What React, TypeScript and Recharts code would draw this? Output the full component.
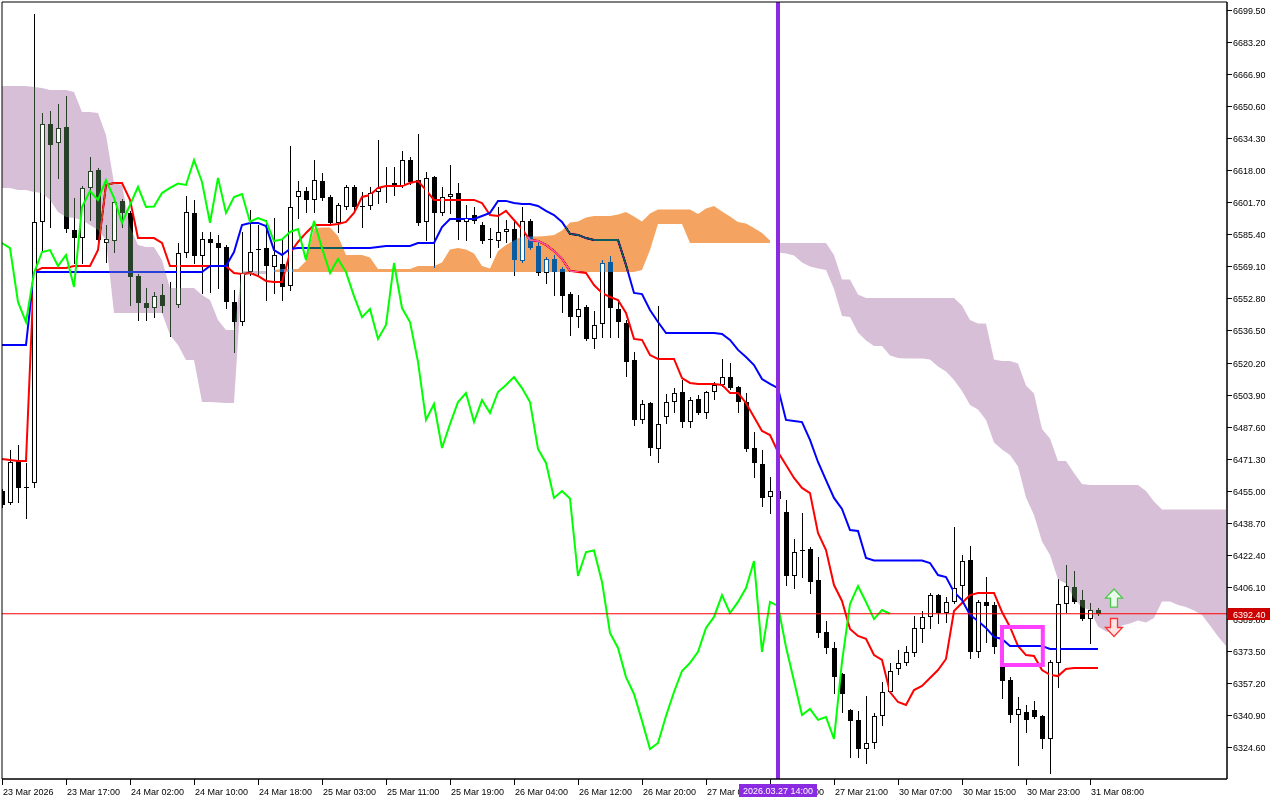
import React from "react";
import {
  ComposedChart, Bar, Line, Area, XAxis, YAxis,
  ReferenceLine, ReferenceArea, Scatter,
} from "recharts";

// H1 candles, bar 0 = first bar on screen
const OPEN = [
  6454.8, 6448.7, 6470.6, 6456.9, 6458.9, 6591.7, 6641.5, 6631.9, 6640.0, 6587.6,
  6583.5, 6609.0, 6618.1, 6581.0, 6582.0, 6602.4, 6596.3, 6564.2, 6550.5, 6547.9,
  6554.5, 6548.9, 6549.5, 6575.9, 6596.3, 6574.4, 6583.0, 6581.0, 6579.0, 6551.0,
  6540.8, 6566.2, 6577.9, 6578.4, 6568.8, 6570.3, 6559.1, 6604.4, 6607.4, 6602.9,
  6612.5, 6604.4, 6591.2, 6599.3, 6609.5, 6599.8, 6599.8, 6606.9, 6611.0, 6611.5,
  6610.0, 6623.2, 6613.0, 6591.7, 6614.6, 6596.3, 6604.4, 6606.4, 6591.7, 6595.2,
  6590.1, 6583.0, 6582.0, 6586.6, 6588.1, 6571.8, 6592.2, 6579.5, 6565.7, 6572.9,
  6567.8, 6555.0, 6543.3, 6548.4, 6532.2, 6539.8, 6571.3, 6547.4, 6540.3, 6521.5,
  6491.0, 6499.6, 6476.2, 6492.5, 6500.1, 6505.2, 6489.9, 6501.6, 6494.5, 6505.2,
  6508.8, 6512.8, 6507.7, 6500.1, 6476.7, 6468.6, 6451.8, 6454.8, 6444.2, 6411.6,
  6424.8, 6425.3, 6409.6, 6383.1, 6375.0, 6361.8, 6343.5, 6338.4, 6323.6, 6326.7,
  6340.4, 6352.6, 6364.3, 6367.4, 6372.4, 6384.7, 6390.8, 6401.9, 6392.8, 6398.4,
  6406.5, 6419.8, 6373.0, 6398.4, 6396.9, 6365.3, 6358.7, 6340.9, 6342.4, 6343.5,
  6340.4, 6328.7, 6367.4, 6397.4, 6406.0, 6399.4, 6389.7, 6394.3,
];
const HIGH = [
  6455.9, 6475.7, 6478.2, 6469.1, 6697.5, 6647.1, 6648.1, 6651.7, 6655.8, 6603.9,
  6610.0, 6624.7, 6619.1, 6590.1, 6604.4, 6603.4, 6597.3, 6565.2, 6558.1, 6556.1,
  6560.1, 6561.1, 6581.0, 6604.9, 6602.9, 6586.6, 6586.6, 6585.1, 6580.0, 6557.1,
  6586.6, 6597.8, 6590.1, 6592.7, 6593.7, 6582.5, 6630.3, 6612.5, 6609.5, 6623.2,
  6616.6, 6605.4, 6601.3, 6610.5, 6610.5, 6606.9, 6609.5, 6633.4, 6619.6, 6619.6,
  6627.8, 6624.7, 6636.4, 6617.1, 6615.1, 6609.5, 6620.7, 6611.5, 6600.3, 6599.3,
  6591.7, 6588.6, 6599.3, 6592.7, 6592.2, 6599.3, 6593.2, 6582.5, 6573.9, 6574.9,
  6568.8, 6556.1, 6554.5, 6549.5, 6546.4, 6572.3, 6574.4, 6552.0, 6541.8, 6525.5,
  6501.1, 6500.1, 6548.9, 6504.2, 6507.2, 6511.3, 6502.7, 6503.7, 6505.7, 6510.3,
  6522.0, 6520.0, 6508.3, 6504.7, 6484.9, 6475.7, 6462.0, 6460.0, 6450.3, 6430.4,
  6443.7, 6426.4, 6421.3, 6388.7, 6378.0, 6362.3, 6344.0, 6342.9, 6350.6, 6341.9,
  6357.7, 6367.4, 6374.0, 6376.0, 6391.3, 6393.8, 6403.0, 6402.5, 6400.9, 6436.5,
  6422.3, 6426.9, 6399.4, 6411.1, 6398.4, 6366.3, 6360.2, 6350.1, 6346.0, 6348.0,
  6340.9, 6368.9, 6410.1, 6417.2, 6414.2, 6404.5, 6397.9, 6395.3,
];
const LOW = [
  6446.7, 6448.0, 6449.3, 6441.1, 6456.9, 6577.4, 6589.1, 6614.1, 6586.6, 6570.8,
  6570.8, 6592.7, 6582.0, 6571.3, 6576.4, 6589.1, 6549.5, 6541.8, 6541.8, 6543.3,
  6545.9, 6533.7, 6548.4, 6573.9, 6570.8, 6555.6, 6556.1, 6558.1, 6547.9, 6525.5,
  6539.3, 6564.7, 6564.7, 6552.0, 6555.6, 6552.0, 6557.1, 6593.7, 6596.8, 6596.8,
  6602.9, 6590.1, 6586.6, 6598.3, 6597.8, 6589.1, 6598.3, 6601.3, 6601.8, 6605.4,
  6609.5, 6611.0, 6590.1, 6582.5, 6568.8, 6595.2, 6596.3, 6583.0, 6582.5, 6591.2,
  6581.0, 6573.9, 6579.0, 6581.5, 6564.7, 6571.3, 6577.9, 6564.7, 6560.6, 6554.5,
  6545.9, 6534.2, 6538.3, 6531.7, 6527.6, 6533.2, 6533.2, 6533.2, 6513.3, 6488.4,
  6489.4, 6473.2, 6469.6, 6489.4, 6495.0, 6487.4, 6487.4, 6494.0, 6492.0, 6501.6,
  6508.3, 6506.7, 6495.0, 6475.2, 6462.0, 6447.2, 6443.7, 6446.0, 6407.0, 6405.5,
  6411.1, 6403.0, 6380.6, 6372.4, 6352.1, 6342.4, 6319.5, 6319.5, 6316.5, 6324.1,
  6335.8, 6352.1, 6361.8, 6366.3, 6370.9, 6378.0, 6385.2, 6387.7, 6388.2, 6397.9,
  6397.9, 6369.9, 6370.4, 6378.0, 6372.4, 6349.6, 6337.3, 6315.5, 6332.3, 6339.4,
  6324.1, 6311.4, 6355.2, 6393.3, 6397.9, 6389.2, 6377.5, 6391.8,
];
const CLOSE = [
  6447.7, 6469.6, 6456.4, 6456.6, 6591.7, 6641.5, 6630.8, 6639.5, 6588.1, 6583.5,
  6609.0, 6617.6, 6582.5, 6583.0, 6601.8, 6596.3, 6563.7, 6550.5, 6547.9, 6554.0,
  6548.9, 6549.2, 6575.9, 6596.8, 6574.4, 6583.0, 6581.0, 6578.4, 6551.0, 6540.8,
  6565.7, 6576.4, 6577.4, 6569.3, 6574.9, 6558.6, 6599.3, 6607.4, 6602.9, 6613.0,
  6603.9, 6591.2, 6600.3, 6609.5, 6599.3, 6599.5, 6606.4, 6609.0, 6611.2, 6610.5,
  6623.2, 6612.0, 6591.2, 6614.1, 6596.3, 6604.4, 6605.9, 6591.7, 6593.7, 6592.2,
  6582.0, 6582.8, 6586.6, 6588.1, 6572.3, 6592.2, 6578.4, 6565.7, 6572.9, 6566.2,
  6554.0, 6543.3, 6547.4, 6532.2, 6539.3, 6570.8, 6547.9, 6540.8, 6520.5, 6491.0,
  6499.1, 6476.7, 6488.9, 6500.1, 6504.7, 6489.9, 6501.1, 6494.5, 6505.2, 6508.8,
  6512.8, 6507.2, 6500.1, 6476.2, 6469.1, 6451.3, 6454.8, 6451.0, 6411.6, 6423.8,
  6424.6, 6408.6, 6382.6, 6375.0, 6360.2, 6351.6, 6337.9, 6323.6, 6326.7, 6340.4,
  6352.6, 6363.3, 6367.4, 6373.0, 6385.2, 6390.8, 6401.9, 6392.8, 6398.4, 6405.5,
  6419.2, 6373.0, 6398.4, 6396.4, 6375.5, 6358.2, 6340.9, 6344.0, 6338.4, 6339.9,
  6328.7, 6367.9, 6397.4, 6406.5, 6398.4, 6389.7, 6394.3, 6392.4,
];

// Ichimoku lines
const TENKAN = [
  6471.1, 6470.6, 6470.1, 6470.1, 6566.2, 6568.3, 6568.3, 6568.3, 6568.3, 6569.3,
  6569.3, 6569.3, 6577.4, 6610.5, 6611.5, 6611.5, 6602.9, 6583.5, 6583.5, 6583.5,
  6581.0, 6569.3, 6569.3, 6569.3, 6569.3, 6569.3, 6569.3, 6569.3, 6569.3, 6565.7,
  6565.2, 6565.7, 6564.2, 6561.7, 6561.2, 6561.2, 6575.9, 6581.5, 6586.1, 6590.1,
  6590.1, 6590.1, 6590.7, 6591.7, 6596.3, 6604.4, 6605.4, 6609.0, 6610.0, 6610.0,
  6610.0, 6611.5, 6612.5, 6607.9, 6602.9, 6602.9, 6602.9, 6602.9, 6602.9, 6602.9,
  6601.3, 6595.2, 6594.7, 6597.3, 6592.7, 6588.1, 6582.5, 6582.0, 6580.0, 6576.9,
  6572.9, 6566.8, 6566.2, 6565.7, 6559.6, 6555.6, 6553.5, 6552.0, 6545.4, 6532.2,
  6531.7, 6524.0, 6522.0, 6522.0, 6522.0, 6512.3, 6509.8, 6509.3, 6509.3, 6509.3,
  6508.8, 6504.7, 6504.7, 6499.6, 6492.5, 6485.4, 6483.3, 6474.7, 6468.1, 6461.5,
  6456.4, 6453.8, 6433.5, 6424.8, 6407.0, 6398.9, 6384.7, 6381.1, 6379.6, 6371.4,
  6368.9, 6352.6, 6347.5, 6346.0, 6353.6, 6355.7, 6359.7, 6363.8, 6369.4, 6393.8,
  6397.9, 6401.9, 6403.0, 6403.0, 6403.0, 6393.3, 6385.7, 6376.0, 6371.4, 6370.9,
  6363.8, 6361.3, 6360.7, 6364.3, 6364.8, 6364.8, 6364.8, 6364.8,
];
const KIJUN = [
  6529.1, 6529.1, 6529.1, 6529.1, 6566.2, 6566.2, 6566.2, 6566.2, 6566.2, 6566.2,
  6566.2, 6566.2, 6566.2, 6566.2, 6566.2, 6566.2, 6566.2, 6566.2, 6566.2, 6566.2,
  6566.2, 6566.2, 6566.2, 6566.2, 6566.2, 6566.2, 6569.3, 6569.3, 6569.3, 6576.4,
  6590.1, 6591.2, 6591.2, 6589.6, 6577.4, 6574.9, 6577.9, 6578.4, 6578.4, 6578.4,
  6578.4, 6578.4, 6578.4, 6578.4, 6578.4, 6578.4, 6578.4, 6579.0, 6579.5, 6579.5,
  6579.5, 6579.5, 6581.0, 6581.0, 6581.0, 6589.1, 6593.2, 6593.2, 6593.2, 6593.2,
  6594.7, 6596.3, 6602.4, 6602.4, 6601.3, 6600.8, 6600.8, 6599.8, 6597.3, 6595.2,
  6591.7, 6585.6, 6585.1, 6583.5, 6582.5, 6582.5, 6582.5, 6582.5, 6569.8, 6555.6,
  6555.0, 6546.9, 6540.8, 6535.2, 6535.2, 6535.2, 6535.2, 6535.2, 6535.2, 6535.2,
  6534.7, 6531.7, 6526.6, 6523.0, 6518.9, 6511.8, 6509.3, 6507.2, 6491.0, 6490.5,
  6489.9, 6480.8, 6469.6, 6460.4, 6451.3, 6445.7, 6435.0, 6434.5, 6420.8, 6419.5,
  6419.5, 6419.5, 6419.5, 6419.5, 6419.5, 6419.5, 6418.2, 6412.1, 6411.1, 6403.5,
  6399.4, 6391.8, 6388.7, 6385.2, 6380.6, 6379.6, 6376.0, 6376.0, 6376.0, 6376.0,
  6376.0, 6374.5, 6374.5, 6374.5, 6374.5, 6374.5, 6374.5, 6374.5,
];
const CHIKOU = [
  6581.0, 6578.4, 6551.0, 6540.8, 6565.7, 6576.4, 6577.4, 6569.3, 6574.9, 6558.6,
  6599.3, 6607.4, 6602.9, 6613.0, 6603.9, 6591.2, 6600.3, 6609.5, 6599.3, 6599.5,
  6606.4, 6609.0, 6611.2, 6610.5, 6623.2, 6612.0, 6591.2, 6614.1, 6596.3, 6604.4,
  6605.9, 6591.7, 6593.7, 6592.2, 6582.0, 6582.8, 6586.6, 6588.1, 6572.3, 6592.2,
  6578.4, 6565.7, 6572.9, 6566.2, 6554.0, 6543.3, 6547.4, 6532.2, 6539.3, 6570.8,
  6547.9, 6540.8, 6520.5, 6491.0, 6499.1, 6476.7, 6488.9, 6500.1, 6504.7, 6489.9,
  6501.1, 6494.5, 6505.2, 6508.8, 6512.8, 6507.2, 6500.1, 6476.2, 6469.1, 6451.3,
  6454.8, 6451.0, 6411.6, 6423.8, 6424.6, 6408.6, 6382.6, 6375.0, 6360.2, 6351.6,
  6337.9, 6323.6, 6326.7, 6340.4, 6352.6, 6363.3, 6367.4, 6373.0, 6385.2, 6390.8,
  6401.9, 6392.8, 6398.4, 6405.5, 6419.2, 6373.0, 6398.4, 6396.4, 6375.5, 6358.2,
  6340.9, 6344.0, 6338.4, 6339.9, 6328.7, 6367.9, 6397.4, 6406.5, 6398.4, 6389.7,
  6394.3, 6392.4,
];
// Senkou spans, shifted forward (visible part only)
const SPAN_A = [
  6609.0, 6609.0, 6607.9, 6607.9, 6606.9, 6606.4, 6602.9, 6596.8, 6594.2, 6593.7,
  6592.7, 6590.1, 6587.6, 6582.5, 6545.4, 6545.4, 6545.4, 6545.4, 6545.4, 6545.4,
  6545.4, 6534.2, 6529.1, 6521.5, 6521.5, 6500.1, 6500.1, 6499.9, 6499.6, 6499.6,
  6564.2, 6565.2, 6565.2, 6565.2, 6567.2, 6567.8, 6567.8, 6567.8, 6571.8, 6588.4,
  6588.9, 6588.9, 6584.6, 6574.9, 6574.9, 6574.9, 6573.6, 6567.8, 6567.8, 6567.8,
  6567.8, 6567.8, 6569.3, 6569.3, 6569.3, 6571.1, 6577.7, 6578.4, 6577.7, 6575.7,
  6569.3, 6568.0, 6576.9, 6580.0, 6582.3, 6584.3, 6584.3, 6584.3, 6584.6, 6585.1,
  6587.4, 6591.4, 6591.9, 6594.0, 6594.7, 6594.7, 6594.7, 6595.5, 6596.8, 6594.5,
  6591.9, 6596.0, 6598.0, 6598.0, 6598.0, 6598.0, 6598.0, 6595.7, 6598.5, 6599.8,
  6597.0, 6594.5, 6591.7, 6590.9, 6588.6, 6586.1, 6582.3, 6576.2, 6575.7, 6574.6,
  6571.1, 6569.0, 6568.0, 6567.3, 6557.6, 6543.9, 6543.4, 6535.5, 6531.4, 6528.6,
  6528.6, 6523.8, 6522.5, 6522.2, 6522.2, 6522.2, 6521.7, 6518.2, 6515.6, 6511.3,
  6505.7, 6498.6, 6496.3, 6491.0, 6479.5, 6476.0, 6473.2, 6467.3, 6451.5, 6442.6,
  6429.2, 6422.3, 6409.8, 6407.8, 6400.2, 6395.6, 6394.3, 6385.9, 6383.4, 6382.6,
  6386.4, 6387.5, 6389.0, 6388.0, 6390.2, 6398.6, 6398.6, 6396.9, 6395.8, 6394.1,
  6391.8, 6386.4, 6380.8, 6376.0,
];
const SPAN_B = [
  6660.9, 6660.9, 6660.9, 6660.9, 6660.3, 6659.8, 6658.8, 6658.8, 6658.8, 6657.8,
  6647.6, 6647.6, 6647.1, 6635.9, 6611.5, 6610.5, 6589.1, 6580.0, 6579.0, 6579.0,
  6572.3, 6558.1, 6558.1, 6558.1, 6558.1, 6554.5, 6552.0, 6541.8, 6536.7, 6536.7,
  6566.7, 6566.7, 6566.7, 6566.7, 6566.2, 6566.2, 6566.2, 6566.2, 6566.2, 6566.2,
  6566.2, 6566.2, 6566.2, 6566.2, 6566.2, 6566.2, 6566.2, 6566.2, 6566.2, 6566.2,
  6566.2, 6566.2, 6566.2, 6566.2, 6566.2, 6566.2, 6566.2, 6566.2, 6566.2, 6566.2,
  6566.2, 6566.2, 6566.2, 6566.2, 6566.2, 6566.2, 6566.2, 6566.2, 6566.2, 6566.2,
  6566.2, 6566.2, 6566.2, 6566.2, 6566.2, 6566.2, 6566.2, 6566.2, 6566.2, 6566.2,
  6567.2, 6577.4, 6590.7, 6590.7, 6590.7, 6590.7, 6581.0, 6581.0, 6581.0, 6581.0,
  6581.0, 6581.0, 6581.0, 6581.0, 6581.0, 6581.0, 6581.0, 6581.0, 6581.0, 6581.0,
  6581.0, 6581.0, 6581.0, 6581.0, 6574.9, 6562.4, 6562.4, 6554.8, 6553.0, 6553.0,
  6553.0, 6553.0, 6553.0, 6553.0, 6553.0, 6553.0, 6553.0, 6553.0, 6553.0, 6553.0,
  6549.2, 6541.8, 6540.0, 6540.0, 6521.7, 6521.0, 6521.0, 6519.7, 6508.5, 6504.4,
  6486.4, 6481.6, 6470.1, 6470.1, 6464.0, 6458.4, 6457.9, 6457.9, 6457.9, 6457.9,
  6457.9, 6457.9, 6457.9, 6454.8, 6449.5, 6445.4, 6445.4, 6445.4, 6445.4, 6445.4,
  6445.4, 6445.4, 6445.4, 6445.4,
];

const TIME_TICKS = [0, 8, 16, 24, 32, 40, 48, 56, 64, 72, 80, 88, 96, 104, 112, 120, 128, 136];
const TIME_LABELS = [
  "23 Mar 2026", "23 Mar 17:00", "24 Mar 02:00", "24 Mar 10:00", "24 Mar 18:00",
  "25 Mar 03:00", "25 Mar 11:00", "25 Mar 19:00", "26 Mar 04:00", "26 Mar 12:00",
  "26 Mar 20:00", "27 Mar 05:00", "27 Mar 13:00", "27 Mar 21:00", "30 Mar 07:00",
  "30 Mar 15:00", "30 Mar 23:00", "31 Mar 08:00",
];
const PRICE_TICKS = [
  6699.5, 6683.2, 6666.9, 6650.6, 6634.3, 6618.0, 6601.7, 6585.4, 6569.1, 6552.8,
  6536.5, 6520.2, 6503.9, 6487.6, 6471.3, 6455.0, 6438.7, 6422.4, 6406.1, 6389.8,
  6373.5, 6357.2, 6340.9, 6324.6,
];
const X_DOMAIN = [0, 153.125];
const Y_DOMAIN = [6308.35, 6703.57];
const LAST_PRICE = 6392.4;
const SIGNAL_BAR = 97;
const SIGNAL_LABEL = "2026.03.27 14:00";
const BOX = { x1: 125, x2: 130.1, y1: 6366.3, y2: 6385.7 };
const ARROWS = [
  { i: 139, price: 6400.4, dir: "up" },
  { i: 139, price: 6385.4, dir: "down" },
];

const FONT = "'Liberation Sans', Arial, sans-serif";
// cloud colours are given inverted; the difference blend turns them back over white
const ORANGE_INV = "#0b5b9f";
const THISTLE_INV = "#274027";

const data = SPAN_A.map((a, i) => {
  const b = SPAN_B[i];
  const has = i < CLOSE.length;
  return {
    i,
    o: OPEN[i], h: HIGH[i], l: LOW[i], c: CLOSE[i],
    candle: has ? [LOW[i], HIGH[i]] : null,
    body: has && CLOSE[i] > OPEN[i] ? [OPEN[i], CLOSE[i]] : null,
    tenkan: has ? TENKAN[i] : null,
    kijun: has ? KIJUN[i] : null,
    chikou: i < CHIKOU.length ? CHIKOU[i] : null,
    orange: a >= b ? [b, a] : null,
    thistle: a < b ? [a, b] : null,
  };
});

function Candle(props: any) {
  const { x, y, width, height, payload } = props;
  if (!payload || payload.o == null) return null;
  const { o, h, l, c } = payload;
  const k = h > l ? height / (h - l) : 0;
  const py = (p: number) => y + (h - p) * k;
  const cx = Math.round(x + width / 2);
  const top = Math.round(py(Math.max(o, c)));
  const bot = Math.round(py(Math.min(o, c)));
  const bull = c > o;
  const left = Math.max(cx - 2, 2); // first bar is cut by the frame
  return (
    <g>
      <line x1={cx + 0.5} x2={cx + 0.5} y1={Math.round(y)} y2={Math.round(y + height) + 1} stroke="#000" />
      {bull ? (
        <rect x={cx - 1.5} y={top + 0.5} width={4} height={Math.max(bot - top - 1, 0)} fill="#fff" stroke="#000" />
      ) : (
        <rect x={left} y={top} width={cx + 3 - left} height={Math.max(bot - top, 1)} fill="#000" />
      )}
    </g>
  );
}

// white inside of bull bodies, painted after the cloud
function BullFill(props: any) {
  const { x, y, width, height, payload } = props;
  if (!payload || payload.body == null) return null;
  const cx = Math.round(x + width / 2);
  const top = Math.round(y);
  const bot = Math.round(y + height);
  if (bot - top < 3) return null;
  return <rect x={cx - 1} y={top + 1} width={3} height={bot - top - 2} fill="#fff" />;
}

function ArrowMark(props: any) {
  const { cx, cy, payload } = props;
  const up = payload.dir === "up";
  const s = up ? 1 : -1;
  const pts = [[0, -9], [8.5, 0], [3.5, 0], [3.5, 9], [-3.5, 9], [-3.5, 0], [-8.5, 0]]
    .map(([px, py]) => `${cx + px},${cy + s * py}`)
    .join(" ");
  return (
    <polygon
      points={pts}
      fill={up ? "#ebfbeb" : "#ffe4e4"}
      stroke={up ? "#4cc94c" : "#ff3434"}
      strokeWidth={1.3}
    />
  );
}

function TimeTick(props: any) {
  const { x, y, payload } = props;
  const v = payload.value;
  const xr = Math.round(x);
  if (v === SIGNAL_BAR) {
    return (
      <g>
        <rect x={xr - 39} y={y + 5} width={78} height={13} fill="#8a2be2" />
        <text x={xr} y={y + 15} textAnchor="middle" fill="#fff" fontSize={9} fontFamily={FONT}>
          {SIGNAL_LABEL}
        </text>
      </g>
    );
  }
  const idx = TIME_TICKS.indexOf(v);
  return (
    <g>
      <line x1={xr + 0.5} x2={xr + 0.5} y1={y} y2={y + 6} stroke="#000" />
      <text x={xr + 1} y={y + 16} fill="#000" fontSize={9} fontFamily={FONT}>
        {TIME_LABELS[idx]}
      </text>
    </g>
  );
}

function PriceTick(props: any) {
  const { x, y, payload } = props;
  const v = payload.value;
  const yr = Math.round(y);
  if (v === LAST_PRICE) {
    return (
      <g>
        <rect x={x + 1} y={yr - 6} width={42} height={12} fill="#cc0000" />
        <text x={x + 6} y={yr + 3.5} fill="#fff" fontSize={9} fontFamily={FONT}>
          {v.toFixed(2)}
        </text>
      </g>
    );
  }
  return (
    <g>
      <line x1={x} x2={x + 5} y1={yr + 0.5} y2={yr + 0.5} stroke="#000" />
      <text x={x + 6} y={yr + 3.5} fill="#000" fontSize={9} fontFamily={FONT}>
        {v.toFixed(2)}
      </text>
    </g>
  );
}

const blendCss = `
  path[fill="${ORANGE_INV}"], path[fill="${THISTLE_INV}"] { mix-blend-mode: difference; }
`;

export default function App() {
  return (
    <div style={{ position: "fixed", left: 0, top: 0, width: 1280, height: 800, background: "#fff" }}>
      <style>{blendCss}</style>
      <ComposedChart width={1280} height={800} data={data} margin={{ top: 2, right: 0, bottom: 0, left: 2 }}
        style={{ background: "#fff" }}>
        <XAxis
          dataKey="i"
          type="number"
          domain={X_DOMAIN}
          ticks={[...TIME_TICKS, SIGNAL_BAR]}
          interval={0}
          tick={<TimeTick />}
          tickLine={false}
          tickSize={0}
          tickMargin={0}
          height={21}
          axisLine={{ stroke: "#000" }}
        />
        <XAxis xAxisId="w" dataKey="i" type="number" domain={X_DOMAIN} hide />
        <YAxis
          orientation="right"
          type="number"
          domain={Y_DOMAIN}
          ticks={[...PRICE_TICKS, LAST_PRICE]}
          interval={0}
          tick={<PriceTick />}
          tickLine={false}
          tickSize={0}
          tickMargin={0}
          width={53}
          axisLine={{ stroke: "#000" }}
        />

        <Bar dataKey="candle" barSize={5} shape={(p: any) => <Candle {...p} />} isAnimationActive={false} zIndex={300} />
        <Line dataKey="tenkan" type="linear" stroke="#ff0000" strokeWidth={2} dot={false} activeDot={false} isAnimationActive={false} zIndex={310} />
        <Line dataKey="kijun" type="linear" stroke="#0000ff" strokeWidth={2} dot={false} activeDot={false} isAnimationActive={false} zIndex={310} />

        {/* cloud painted as inverted colour with difference blend, like the terminal's XOR fill */}
        <Area dataKey="orange" type="linear" stroke="none" fill={ORANGE_INV} fillOpacity={1}
          dot={false} activeDot={false} isAnimationActive={false} zIndex={320} />
        <Area dataKey="thistle" type="linear" stroke="none" fill={THISTLE_INV} fillOpacity={1}
          dot={false} activeDot={false} isAnimationActive={false} zIndex={320} />

        <Bar xAxisId="w" dataKey="body" barSize={5} shape={(p: any) => <BullFill {...p} />} isAnimationActive={false} zIndex={330} />
        <Line dataKey="chikou" type="linear" stroke="#00ff00" strokeWidth={2} dot={false} activeDot={false} isAnimationActive={false} zIndex={340} />

        <ReferenceLine y={LAST_PRICE} stroke="#ff0000" strokeWidth={1} zIndex={350} />
        <ReferenceLine x={SIGNAL_BAR} stroke="#8a2be2" strokeWidth={4} zIndex={350} />
        <ReferenceArea x1={BOX.x1} x2={BOX.x2} y1={BOX.y1} y2={BOX.y2} fill="none" fillOpacity={0} stroke="#ff40ff" strokeWidth={4} zIndex={360} />
        <Scatter data={ARROWS} dataKey="price" shape={(p: any) => <ArrowMark {...p} />} isAnimationActive={false} zIndex={370} />
        <ReferenceArea x1={X_DOMAIN[0]} x2={X_DOMAIN[1]} y1={Y_DOMAIN[0]} y2={Y_DOMAIN[1]} fill="none" fillOpacity={0} stroke="#000" zIndex={380} />
      </ComposedChart>
    </div>
  );
}
